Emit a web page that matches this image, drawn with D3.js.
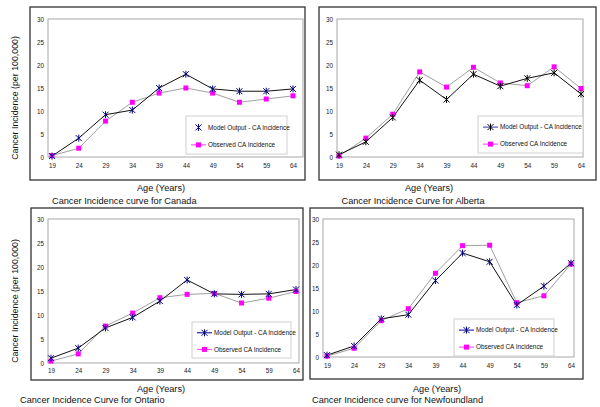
<!DOCTYPE html>
<html><head><meta charset="utf-8">
<script src="https://cdn.jsdelivr.net/npm/d3@7/dist/d3.min.js"></script>
<style>
body{margin:0;background:#fff;}
svg{display:block;font-family:"Liberation Sans",Arial,sans-serif;}
</style></head>
<body><svg id="c" width="600" height="407"></svg>
<script>
// ---- data ----
const ages = ["19","24","29","34","39","44","49","54","59","64"];
const yTicks = [0,5,10,15,20,25,30];
const seriesNames = ["Model Output - CA Incidence","Observed CA Incidence"];
const yAxisTitle = "Cancer Incidence (per 100,000)";
const xAxisTitle = "Age (Years)";

const canadaModel    = [0.2,4.1,9.2,10.2,15.0,18.0,14.8,14.3,14.3,14.8];
const canadaObserved = [0.3,1.9,7.8,11.9,13.9,15.0,13.9,11.9,12.6,13.3];
const albertaModel    = [0.5,3.3,8.6,16.7,12.5,18.0,15.4,17.1,18.3,13.7];
const albertaObserved = [0.2,4.1,9.3,18.5,15.2,19.5,16.1,15.5,19.6,14.9];
const ontarioModel    = [1.0,3.1,7.3,9.5,12.9,17.3,14.4,14.3,14.4,15.3];
const ontarioObserved = [0.4,1.9,7.7,10.4,13.6,14.3,14.5,12.5,13.5,14.9];
const nflModel    = [0.4,2.4,8.3,9.2,16.6,22.6,20.7,11.3,15.4,20.4];
const nflObserved = [0.2,1.9,7.9,10.5,18.2,24.2,24.3,11.8,13.3,20.2];

const titles = ["Cancer Incidence curve for Canada","Cancer Incidence Curve for Alberta",
                "Cancer Incidence Curve for Ontario","Cancer Incidence curve for Newfoundland"];

// ---- layout ----
const panels = [
  {model:canadaModel, obs:canadaObserved, title:titles[0],
   box:[30,7,305,180], plot:[48,19,303,157], xr:[52,293], yTitle:true, yTitleX:15,
   legend:[186,116,287,154], legModelLine:false, legLineColor:"#000080", markerColor:"#000080",
   xTitleX:161, xTitleY:191, titleX:52, titleY:204, titleAnchor:"start", tickY:169},
  {model:albertaModel, obs:albertaObserved, title:titles[1],
   box:[319,7,596,180], plot:[337,19,583,157], xr:[339,581], yTitle:false,
   legend:[478,116,583,153], legModelLine:true, legLineColor:"#3333aa", markerColor:"#000",
   xTitleX:429, xTitleY:191, titleX:413, titleY:204, titleAnchor:"middle", tickY:169},
  {model:ontarioModel, obs:ontarioObserved, title:titles[2],
   box:[31,208,303,380], plot:[48,219,299,363], xr:[51,296], yTitle:true, yTitleX:15,
   legend:[192,322,291,358], legModelLine:true, legLineColor:"#000080", markerColor:"#000080",
   xTitleX:161, xTitleY:392, titleX:20, titleY:403, titleAnchor:"start", tickY:374},
  {model:nflModel, obs:nflObserved, title:titles[3],
   box:[310,208,583,379], plot:[323,219,574,357], xr:[327,571], yTitle:false,
   legend:[454,319,554,356], legModelLine:true, legLineColor:"#0000aa", markerColor:"#000080",
   xTitleX:437, xTitleY:392, titleX:312, titleY:403, titleAnchor:"start", tickY:369}
];

const svg = d3.select("#c");

function star(g, x, y, color){
  const s = 3;
  g.append("path")
   .attr("d", `M${x-s},${y-s}L${x+s},${y+s}M${x-s},${y+s}L${x+s},${y-s}M${x},${y-s-0.5}L${x},${y+s+0.5}`)
   .attr("stroke", color).attr("stroke-width", 1).attr("fill","none");
}
function square(g, x, y){
  g.append("rect").attr("x", x-2.5).attr("y", y-2.5).attr("width",5).attr("height",5)
   .attr("fill","#ff00ff");
}

panels.forEach(p => {
  const g = svg.append("g");
  const [bx0,by0,bx1,by1] = p.box;
  g.append("rect").attr("x",bx0).attr("y",by0).attr("width",bx1-bx0).attr("height",by1-by0)
   .attr("fill","#fff").attr("stroke","#333").attr("stroke-width",1.3);
  const [px0,py0,px1,py1] = p.plot;
  g.append("rect").attr("x",px0).attr("y",py0).attr("width",px1-px0).attr("height",py1-py0)
   .attr("fill","#fff").attr("stroke","#a8a8a8").attr("stroke-width",1);

  const x = d3.scalePoint().domain(ages).range(p.xr).padding(0);
  const y = d3.scaleLinear().domain([0,30]).range([py1,py0]);

  // y axis
  const ya = g.append("g").attr("transform",`translate(${px0-3},0)`)
    .call(d3.axisLeft(y).tickValues(yTicks).tickSize(0).tickPadding(1));
  ya.select(".domain").remove();
  ya.selectAll("text").attr("font-size",6.3).attr("fill","#222")
    .attr("font-family","Liberation Sans, Arial, sans-serif");
  // x axis
  const xa = g.append("g").attr("transform",`translate(0,${p.tickY-7})`)
    .call(d3.axisBottom(x).tickSize(0).tickPadding(2));
  xa.select(".domain").remove();
  xa.selectAll("text").attr("font-size",6.3).attr("fill","#222")
    .attr("font-family","Liberation Sans, Arial, sans-serif");

  // lines
  const line = d3.line().x((d,i)=>x(ages[i])).y(d=>y(d));
  g.append("path").datum(p.obs).attr("d",line).attr("fill","none")
   .attr("stroke","#a0a0a0").attr("stroke-width",1);
  g.append("path").datum(p.model).attr("d",line).attr("fill","none")
   .attr("stroke","#111").attr("stroke-width",1);
  p.obs.forEach((v,i)=>square(g, x(ages[i]), y(v)));
  p.model.forEach((v,i)=>star(g, x(ages[i]), y(v), p.markerColor));

  // legend
  const [lx0,ly0,lx1,ly1] = p.legend;
  g.append("rect").attr("x",lx0).attr("y",ly0).attr("width",lx1-lx0).attr("height",ly1-ly0)
   .attr("fill","#fff").attr("stroke","#d0d0d0").attr("stroke-width",1);
  const r1 = ly0 + (ly1-ly0)*0.3, r2 = ly0 + (ly1-ly0)*0.76;
  const sx0 = lx0+5, sx1 = lx0+20, mx = (sx0+sx1)/2;
  if (p.legModelLine) g.append("line").attr("x1",sx0).attr("x2",sx1).attr("y1",r1).attr("y2",r1)
     .attr("stroke",p.legLineColor).attr("stroke-width",1);
  star(g, mx, r1, p.markerColor);
  g.append("line").attr("x1",sx0).attr("x2",sx1).attr("y1",r2).attr("y2",r2)
   .attr("stroke","#ff33ff").attr("stroke-width",1);
  square(g, mx, r2);
  g.append("text").attr("x",sx1+2).attr("y",r1+2.3).attr("font-size",6.4).attr("fill","#111")
   .text(seriesNames[0]);
  g.append("text").attr("x",sx1+2).attr("y",r2+2.3).attr("font-size",6.4).attr("fill","#111")
   .text(seriesNames[1]);

  // titles
  g.append("text").attr("x",p.xTitleX).attr("y",p.xTitleY).attr("text-anchor","middle")
   .attr("font-size",9.2).attr("fill","#111").text(xAxisTitle);
  g.append("text").attr("x",p.titleX).attr("y",p.titleY).attr("text-anchor",p.titleAnchor)
   .attr("font-size",9.2).attr("fill","#111").text(p.title);
  if (p.yTitle) {
    const cy = (py0+py1)/2 + 10;
    g.append("text").attr("transform",`translate(${p.yTitleX+3},${cy}) rotate(-90)`)
     .attr("text-anchor","middle").attr("font-size",8.8).attr("fill","#111").text(yAxisTitle);
  }
});
</script></body></html>
